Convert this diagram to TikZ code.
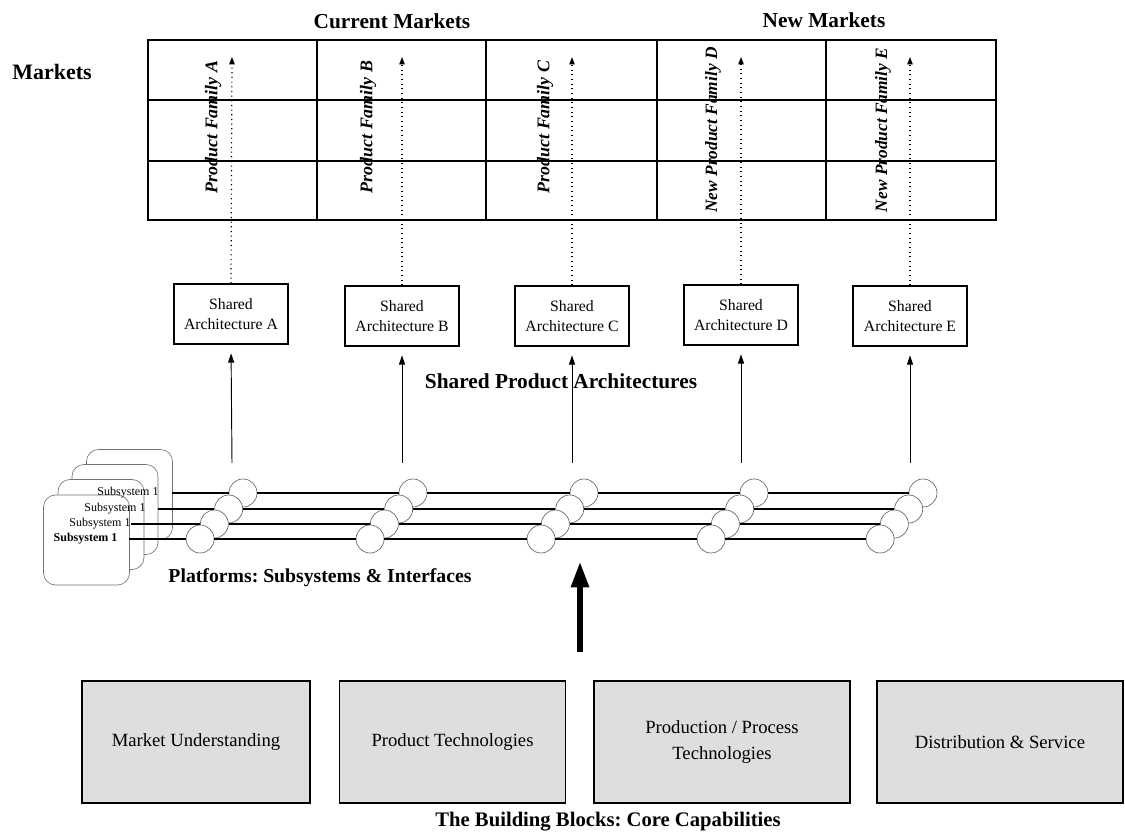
\documentclass[tikz,border=0pt]{standalone}
\usepackage{fontspec}
\setmainfont{Liberation Serif}
\usetikzlibrary{arrows.meta}
\frenchspacing

\begin{document}
\begin{tikzpicture}[x=0.75pt,y=-0.75pt,
  heading/.style={font=\fontsize{15.5}{18}\selectfont\bfseries, inner sep=0pt},
  gridthin/.style={line width=0.8pt},
  gridthick/.style={line width=2pt},
  famlabel/.style={rotate=90, font=\fontsize{13.4}{15}\selectfont\bfseries\itshape, inner sep=0pt},
  archbox/.style={draw, line width=0.9pt, minimum width=85.5pt, minimum height=45pt,
    align=center, font=\fontsize{11.8}{15}\selectfont, inner sep=1pt},
  dotarrow/.style={line width=0.9pt, dash pattern=on 0.9pt off 2.6pt,
    -{Triangle[length=5.5pt,width=4pt]}},
  solidarrow/.style={line width=0.7pt, -{Triangle[length=7pt,width=4.5pt]}, shorten >=6.5pt},
  bigarrow/.style={line width=3.8pt, -{Triangle[length=19pt,width=13pt]}},
  card/.style={draw=black!55, fill=white, line width=0.5pt, rounded corners=9pt,
    minimum width=64.5pt, minimum height=67.5pt, inner sep=0pt},
  subtext/.style={font=\fontsize{9}{10}\selectfont, inner sep=0pt},
  joint/.style={circle, draw=black!60, fill=white, line width=0.5pt, minimum size=21pt, inner sep=0pt},
  rail/.style={line width=1.2pt},
  capbox/.style={draw, fill=black!13, line width=0.8pt, minimum height=91.5pt,
    align=center, font=\fontsize{14}{19}\selectfont, inner sep=2pt}
]
\useasboundingbox (0,0) rectangle (1125,837);

% ---- market grid ----
\draw[gridthin] (148,100) -- (996,100);
\draw[gridthin] (148,161) -- (996,161);
\foreach \x in {317,486,826} \draw[gridthin] (\x,40) -- (\x,220);
\draw[gridthick] (148,40) rectangle (996,220);
\draw[gridthick] (657,40) -- (657,220);

\node[heading, font=\fontsize{16}{18}\selectfont\bfseries] (curmk) at (392,21) {Current Markets};
\node[heading, font=\fontsize{16}{18}\selectfont\bfseries] (newmk) at (824,20) {New Markets};
\node[heading, font=\fontsize{16.5}{18}\selectfont\bfseries, anchor=west] (mk) at (12,72) {Markets};

\node[famlabel] (famA) at (213,127) {Product Family A};
\node[famlabel] (famB) at (368,127) {Product Family B};
\node[famlabel] (famC) at (545,127) {Product Family C};
\node[famlabel, font=\fontsize{13}{15}\selectfont\bfseries\itshape] (famD) at (713,130) {New Product Family D};
\node[famlabel, font=\fontsize{13}{15}\selectfont\bfseries\itshape] (famE) at (883,130) {New Product Family E};

% ---- shared architectures ----
\node[archbox] (archA) at (231,314) {Shared\\Architecture A};
\node[archbox] (archB) at (402,316) {Shared\\Architecture B};
\node[archbox] (archC) at (572,316) {Shared\\Architecture C};
\node[archbox] (archD) at (741,315) {Shared\\Architecture D};
\node[archbox] (archE) at (910,316) {Shared\\Architecture E};

\node[heading, font=\fontsize{16}{18}\selectfont\bfseries] (spa) at (561,381) {Shared Product Architectures};

\foreach \n/\x in {A/232,B/402,C/572,D/741,E/910}{
  \coordinate (top\n) at (\x,57);
  \draw[dotarrow] (arch\n.north) -- (top\n);
  \coordinate (base\n) at (\x,463);
  \draw[solidarrow] (base\n) -- (arch\n.south);
}

% ---- subsystem cards ----
\node[card] (card4) at (129.5,494.5) {};
\node[card] (card3) at (115,509.5) {};
\node[card] (card2) at (101,524.5) {};
\node[card] (card1) at (86.5,540) {};
\node[subtext] (sub4) at (128,493) {Subsystem 1};
\node[subtext] (sub3) at (115,509) {Subsystem 1};
\node[subtext] (sub2) at (100,524) {Subsystem 1};
\node[subtext, font=\fontsize{9}{10}\selectfont\bfseries] (sub1) at (85.5,539) {Subsystem 1};

% ---- interface joints, row 0 on top ----
\foreach \g/\x in {A/243,B/413,C/584,D/754,E/923}{
  \node[joint] (\g0) at (\x,493) {};
  \node[joint] (\g1) at ({\x-14.3},509) {};
  \node[joint] (\g2) at ({\x-28.6},524) {};
  \node[joint] (\g3) at ({\x-42.9},539) {};
}

% ---- rails between joints ----
\coordinate (ls0) at (172,493);
\coordinate (ls1) at (158,509);
\coordinate (ls2) at (131,524);
\coordinate (ls3) at (129,539);
\foreach \r in {0,1,2,3}{
  \draw[rail] (ls\r) -- (A\r.west);
  \draw[rail] (A\r.east) -- (B\r.west);
  \draw[rail] (B\r.east) -- (C\r.west);
  \draw[rail] (C\r.east) -- (D\r.west);
  \draw[rail] (D\r.east) -- (E\r.west);
}

\node[heading, font=\fontsize{14.8}{18}\selectfont\bfseries] (plat) at (320,578) {Platforms: Subsystems \& Interfaces};

% ---- core capabilities ----
\coordinate (bigbase) at (580,652);
\coordinate (bigtip) at (580,562);
\draw[bigarrow] (bigbase) -- (bigtip);

\node[capbox, minimum width=171pt] (cap1) at (196,742) {Market Understanding};
\node[capbox, minimum width=170pt] (cap2) at (452.5,742) {Product Technologies};
\node[capbox, minimum width=192pt] (cap3) at (722,742) {Production / Process\\Technologies};
\node[capbox, minimum width=184.5pt] (cap4) at (1000,742) {Distribution \& Service};

\node[heading, font=\fontsize{15.5}{18}\selectfont\bfseries] (core) at (608,822) {The Building Blocks: Core Capabilities};
\end{tikzpicture}
\end{document}
